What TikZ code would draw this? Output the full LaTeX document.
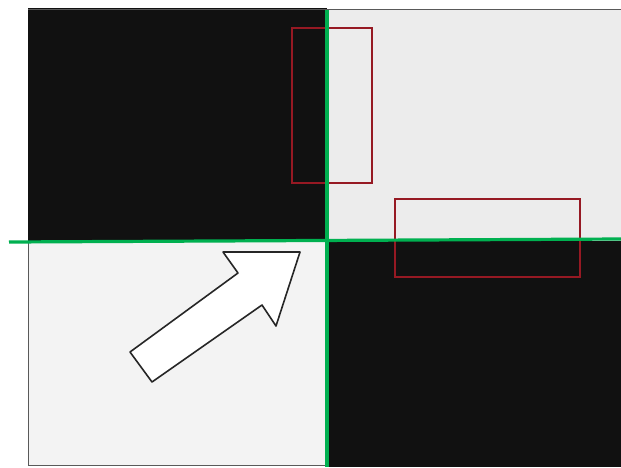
\documentclass[tikz,border=0pt]{standalone}
\usetikzlibrary{positioning}
\definecolor{guide}{RGB}{0,176,80}
\definecolor{boxred}{RGB}{150,25,35}
\definecolor{lightq}{RGB}{236,236,236}
\definecolor{paleq}{RGB}{243,243,243}
\definecolor{darkq}{RGB}{17,17,17}
\tikzset{
 quad/.style={rectangle, inner sep=0pt, outer sep=0pt, anchor=north west},
 redbox/.style={rectangle, draw=boxred, line width=2pt, inner sep=0pt, outer sep=0pt, anchor=north west},
 guideline/.style={draw=guide, line width=3.2pt},
}
\begin{document}
\begin{tikzpicture}[x=1pt,y=-1pt]
\useasboundingbox[fill=white] (0,0) rectangle (621,467);

\node (tl) [quad, fill=darkq, minimum width=299pt, minimum height=233pt] at (28,8) {};
\node (tr) [quad, fill=lightq, minimum width=294pt, minimum height=231pt] at (327,10) {};
\node (bl) [quad, fill=paleq, minimum width=299pt, minimum height=225pt] at (28,241) {};
\node (br) [quad, fill=darkq, minimum width=294pt, minimum height=226pt] at (327,241) {};
\draw[black!65, line width=1.2pt] (28,9.5) -- (621,9.5);
\draw[black!65, line width=1.2pt] (28.5,241) -- (28.5,465.5) -- (327,465.5);

% white arrow in the lower left part
\draw[black!85, line width=1.6pt, fill=white, line join=round]
  (300,252) -- (223,252) -- (238,273) -- (130,352) -- (152,382)
  -- (262,305) -- (276,326) -- cycle;

\node (box1) [redbox, minimum width=80pt, minimum height=155pt] at (292,28) {};
\node (box2) [redbox, minimum width=185pt, minimum height=78pt] at (395,199) {};

\coordinate (vtop) at (327,10);
\coordinate (vbot) at (327,467);
\coordinate (hleft) at (9,242);
\coordinate (hright) at (621,239);
\draw[guideline] (vtop) -- (vbot);
\draw[guideline] (hleft) -- (hright);

\end{tikzpicture}
\end{document}
